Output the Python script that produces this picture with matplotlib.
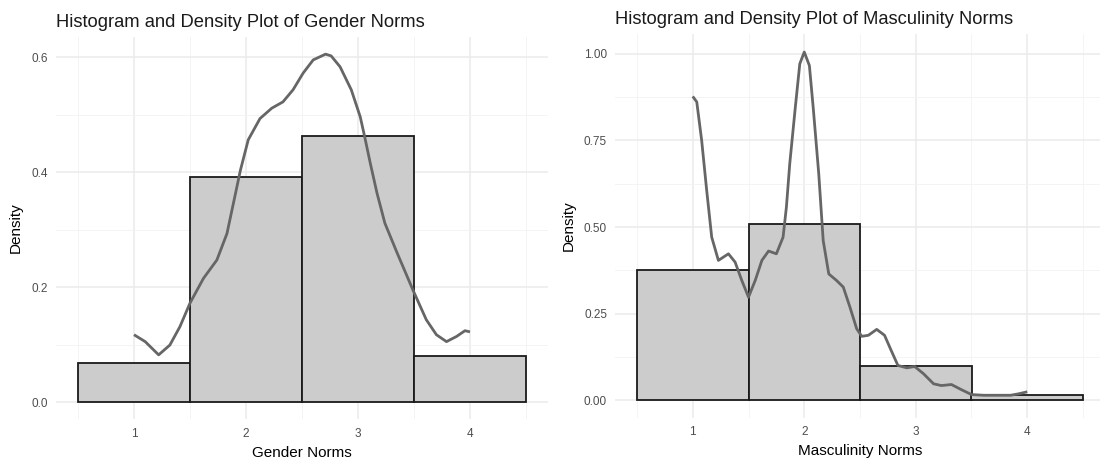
import matplotlib
matplotlib.use("Agg")
import matplotlib.pyplot as plt

plt.rcParams['font.family'] = ['Liberation Sans', 'DejaVu Sans']

# ---- data ----
bin_centers = [1, 2, 3, 4]
gender_hist = [0.068, 0.392, 0.463, 0.080]
masc_hist = [0.377, 0.508, 0.099, 0.016]

gender_dens_x = [1.00, 1.10, 1.22, 1.32, 1.41, 1.50, 1.62, 1.74, 1.83, 1.90, 1.95, 2.02,
                 2.125, 2.23, 2.33, 2.42, 2.51, 2.60, 2.71, 2.76, 2.84, 2.94, 3.02, 3.06,
                 3.11, 3.17, 3.24, 3.35, 3.49, 3.61, 3.70, 3.79, 3.88, 3.955, 4.00]
gender_dens_y = [0.117, 0.105, 0.082, 0.099, 0.131, 0.172, 0.215, 0.247, 0.293, 0.357, 0.403, 0.456,
                 0.493, 0.511, 0.522, 0.543, 0.572, 0.595, 0.605, 0.602, 0.583, 0.543, 0.496, 0.461,
                 0.415, 0.363, 0.311, 0.259, 0.195, 0.143, 0.117, 0.105, 0.114, 0.124, 0.122]

masc_dens_x = [1.00, 1.036, 1.08, 1.125, 1.17, 1.23, 1.32, 1.38, 1.44, 1.50, 1.56, 1.62,
               1.68, 1.75, 1.81, 1.84, 1.87, 1.92, 1.96, 2.00, 2.046, 2.08, 2.13, 2.17,
               2.22, 2.29, 2.35, 2.41, 2.47, 2.516, 2.575, 2.65, 2.72, 2.78, 2.84, 2.92,
               2.99, 3.07, 3.16, 3.23, 3.32, 3.41, 3.50, 3.61, 3.73, 3.85, 3.92, 4.00]
masc_dens_y = [0.877, 0.861, 0.750, 0.606, 0.471, 0.404, 0.423, 0.399, 0.346, 0.298, 0.346, 0.404,
               0.431, 0.423, 0.471, 0.558, 0.683, 0.846, 0.971, 1.005, 0.966, 0.846, 0.654, 0.461,
               0.365, 0.346, 0.327, 0.269, 0.207, 0.185, 0.188, 0.205, 0.188, 0.144, 0.101, 0.094,
               0.098, 0.077, 0.048, 0.043, 0.046, 0.031, 0.017, 0.015, 0.015, 0.015, 0.019, 0.025]

x_ticks = [1, 2, 3, 4]
gender_yticks = [0.0, 0.2, 0.4, 0.6]
gender_yticklabels = ['0.0', '0.2', '0.4', '0.6']
masc_yticks = [0.0, 0.25, 0.50, 0.75, 1.00]
masc_yticklabels = ['0.00', '0.25', '0.50', '0.75', '1.00']

W, H = 1100, 462
fig = plt.figure(figsize=(W / 100, H / 100), dpi=100)
fig.patch.set_facecolor('white')


def panel(rect, hist, dx, dy, yticks, ylabels, ylim, yminor, title, xlabel):
    ax = fig.add_axes(rect)
    ax.set_xlim(0.3, 4.7)
    ax.set_ylim(*ylim)
    ax.set_axisbelow(True)
    ax.set_xticks(x_ticks)
    ax.set_xticklabels([str(t) for t in x_ticks])
    ax.set_xticks([0.5, 1.5, 2.5, 3.5, 4.5], minor=True)
    ax.set_yticks(yticks)
    ax.set_yticklabels(ylabels)
    ax.set_yticks(yminor, minor=True)
    ax.grid(True, which='major', color='#EBEBEB', lw=1.1)
    ax.grid(True, which='minor', color='#F2F2F2', lw=0.6)
    for s in ax.spines.values():
        s.set_visible(False)
    ax.tick_params(which='both', length=0)
    ax.tick_params(axis='both', labelsize=8.5, labelcolor='#4D4D4D')
    ax.tick_params(axis='x', pad=6)
    ax.tick_params(axis='y', pad=5.5)
    ax.bar(bin_centers, hist, width=1.0, color='#CCCCCC', edgecolor='#1A1A1A', lw=1.3, zorder=2)
    ax.plot(dx, dy, color='#666666', lw=2.0, zorder=3, solid_capstyle='butt', solid_joinstyle='round')
    ax.set_xlabel(xlabel, fontsize=11, color='black', labelpad=4.5)
    ax.set_ylabel('Density', fontsize=11, color='black', labelpad=6)
    ax.set_title(title, fontsize=13.2, loc='left', color='#1A1A1A', pad=7, x=0.0)
    return ax


panel([55.6 / W, (H - 419.25) / H, (548.4 - 55.6) / W, (419.25 - 36.9) / H],
      gender_hist, gender_dens_x, gender_dens_y,
      gender_yticks, gender_yticklabels, (-0.03, 0.635),
      [0.1, 0.3, 0.5], 'Histogram and Density Plot of Gender Norms', 'Gender Norms')

panel([614.7 / W, (H - 417.8) / H, (1105.3 - 614.7) / W, (417.8 - 34.0) / H],
      masc_hist, masc_dens_x, masc_dens_y,
      masc_yticks, masc_yticklabels, (-0.05, 1.057),
      [0.125, 0.375, 0.625, 0.875], 'Histogram and Density Plot of Masculinity Norms', 'Masculinity Norms')

fig.savefig('out.png', dpi=100, facecolor='white')
